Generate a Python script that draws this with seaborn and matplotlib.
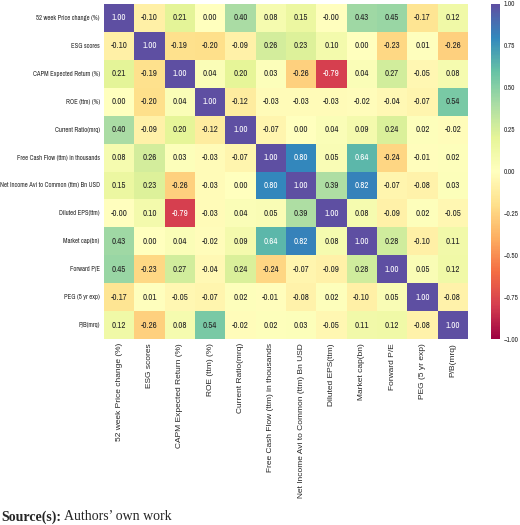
import numpy as np
import pandas as pd
import matplotlib
matplotlib.use("Agg")
import matplotlib.pyplot as plt
import seaborn as sns

labels = [
    "52 week Price change (%)",
    "ESG scores",
    "CAPM Expected Return (%)",
    "ROE (ttm) (%)",
    "Current Ratio(mrq)",
    "Free Cash Flow (ttm) in thousands",
    "Net Income Avi to Common (ttm) Bn USD",
    "Diluted EPS(ttm)",
    "Market cap(bn)",
    "Forward P/E",
    "PEG (5 yr exp)",
    "P/B(mrq)",
]

# correlation values (-0.001 prints as -0.00)
row_price = [1.00, -0.10, 0.21, 0.00, 0.40, 0.08, 0.15, -0.001, 0.43, 0.45, -0.17, 0.12]
row_esg = [-0.10, 1.00, -0.19, -0.20, -0.09, 0.26, 0.23, 0.10, 0.00, -0.23, 0.01, -0.26]
row_capm = [0.21, -0.19, 1.00, 0.04, 0.20, 0.03, -0.26, -0.79, 0.04, 0.27, -0.05, 0.08]
row_roe = [0.00, -0.20, 0.04, 1.00, -0.12, -0.03, -0.03, -0.03, -0.02, -0.04, -0.07, 0.54]
row_current = [0.40, -0.09, 0.20, -0.12, 1.00, -0.07, 0.00, 0.04, 0.09, 0.24, 0.02, -0.02]
row_fcf = [0.08, 0.26, 0.03, -0.03, -0.07, 1.00, 0.80, 0.05, 0.64, -0.24, -0.01, 0.02]
row_netinc = [0.15, 0.23, -0.26, -0.03, 0.00, 0.80, 1.00, 0.39, 0.82, -0.07, -0.08, 0.03]
row_eps = [-0.001, 0.10, -0.79, -0.03, 0.04, 0.05, 0.39, 1.00, 0.08, -0.09, 0.02, -0.05]
row_mcap = [0.43, 0.00, 0.04, -0.02, 0.09, 0.64, 0.82, 0.08, 1.00, 0.28, -0.10, 0.11]
row_fpe = [0.45, -0.23, 0.27, -0.04, 0.24, -0.24, -0.07, -0.09, 0.28, 1.00, 0.05, 0.12]
row_peg = [-0.17, 0.01, -0.05, -0.07, 0.02, -0.01, -0.08, 0.02, -0.10, 0.05, 1.00, -0.08]
row_pb = [0.12, -0.26, 0.08, 0.54, -0.02, 0.02, 0.03, -0.05, 0.11, 0.12, -0.08, 1.00]

corr = pd.DataFrame(
    [row_price, row_esg, row_capm, row_roe, row_current, row_fcf,
     row_netinc, row_eps, row_mcap, row_fpe, row_peg, row_pb],
    index=labels, columns=labels,
)

cbar_ticks = [-1.0, -0.75, -0.5, -0.25, 0.0, 0.25, 0.5, 0.75, 1.0]

# narrow faces first, the original picture is horizontally squeezed
narrow = ["Liberation Sans Narrow", "Arial Narrow", "Archivo Narrow",
          "Roboto Condensed", "Liberation Sans", "DejaVu Sans"]

sns.set_style("white")
plt.rcParams["font.family"] = narrow

fig = plt.figure(figsize=(5.2, 5.25), dpi=100)
ax = fig.add_axes([104 / 520, 1 - 339 / 525, 364 / 520, 335 / 525])
cax = fig.add_axes([491 / 520, 1 - 339 / 525, 9 / 520, 335 / 525])

sns.heatmap(corr, ax=ax, cbar_ax=cax, cmap="Spectral", vmin=-1, vmax=1,
            annot=True, fmt=".2f", annot_kws={"size": 6.4})

ax.tick_params(axis="both", length=0, pad=3)
ax.set_yticklabels(labels, rotation=0, fontsize=5.2)
ax.set_xticklabels(labels, rotation=90, fontsize=6,
                   family=["Liberation Sans", "DejaVu Sans"])
cax.set_yticks(cbar_ticks)
cax.set_yticklabels([f"{v:.2f}".replace("-", "\u2212") for v in cbar_ticks])
cax.tick_params(labelsize=5.2, length=0, pad=3)

# shrink the row labels if the face found is too wide for the left margin
fig.canvas.draw()
left_px = min(t.get_window_extent().x0 for t in ax.get_yticklabels())
if left_px < 1:
    widest = max(t.get_window_extent().width for t in ax.get_yticklabels())
    scale = (widest + left_px - 1) / widest
    for t in ax.get_yticklabels():
        t.set_fontsize(5.2 * scale)

y_src = 1 - 517 / 525
t1 = fig.text(0.002, y_src, "Source(s):", family="Liberation Serif",
              fontweight="bold", fontsize=10, va="center", ha="left")
fig.canvas.draw()
bb = t1.get_window_extent()
fig.text((bb.x1 + 3) / 520, y_src, "Authors\u2019 own work",
         family="Liberation Serif", fontsize=10, va="center", ha="left")

fig.savefig("out.png", dpi=100)
